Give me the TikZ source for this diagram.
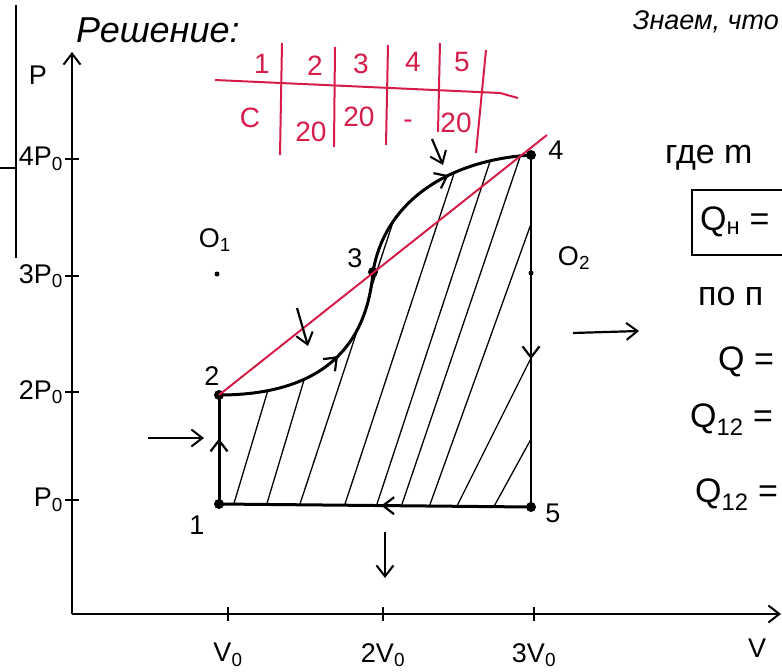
\documentclass[tikz,border=0pt]{standalone}
\usepackage{fontspec}
\setmainfont{Liberation Sans}
\usetikzlibrary{arrows.meta,decorations.markings}
\definecolor{inkred}{RGB}{214,28,72}
\tikzset{
  axisline/.style={line width=2.2pt,black},
  cycline/.style={line width=3pt,black},
  thinline/.style={line width=2pt,black},
  hatchline/.style={line width=1.3pt,black},
  redline/.style={draw=inkred,line width=2pt},
  lbl/.style={font=\fontsize{27}{29}\selectfont,inner sep=0pt},
  biglbl/.style={font=\fontsize{34}{36}\selectfont,inner sep=0pt,anchor=west},
  redlbl/.style={font=\fontsize{28}{30}\selectfont,inner sep=0pt,text=inkred},
  ptdot/.style={circle,fill=black,inner sep=0pt,minimum size=10pt},
  smalldot/.style={circle,fill=black,inner sep=0pt,minimum size=5pt},
  barb/.style={-{Straight Barb[length=11pt,width=17pt,line width=2pt]}},
  freearrow/.style={line width=2.2pt,barb},
  midarrow/.style={postaction={decorate,decoration={markings,
     mark=at position #1 with {\arrow{Straight Barb[length=11pt,width=17pt,line width=2.2pt]}}}}}
}
\begin{document}
\begin{tikzpicture}[x=1pt,y=-1pt]
\useasboundingbox (0,0) rectangle (782,672);

% left margin line
\coordinate (mtop) at (16,5);
\coordinate (mbot) at (16,258);
\coordinate (mstub) at (0,168);
\coordinate (mjoin) at (16,168);
\draw[thinline] (mtop) -- (mbot);
\draw[thinline] (mstub) -- (mjoin);

% axes
\coordinate (O) at (72,614);
\coordinate (Ptop) at (72,52);
\coordinate (Vend) at (781,614);
\draw[axisline,barb] (O) -- (Ptop);
\draw[axisline,barb] (O) -- (Vend);
\node[lbl] (Plab) at (38,75) {P};
\node[lbl] (Vlab) at (757,648) {V};

% P ticks
\foreach \yy/\nm/\tx in {500/t1/P\textsubscript{0},392/t2/2P\textsubscript{0},276/t3/3P\textsubscript{0},159/t4/4P\textsubscript{0}}{
  \coordinate (\nm a) at (65,\yy);
  \coordinate (\nm b) at (79,\yy);
  \draw[axisline] (\nm a) -- (\nm b);
  \node[lbl,anchor=east] (\nm l) at (63,\yy) {\tx};
}
% V ticks
\foreach \xx/\nm/\tx in {228/v1/V\textsubscript{0},383/v2/2V\textsubscript{0},534/v3/3V\textsubscript{0}}{
  \coordinate (\nm a) at (\xx,607);
  \coordinate (\nm b) at (\xx,621);
  \draw[axisline] (\nm a) -- (\nm b);
  \node[lbl] (\nm l) at (\xx,655) {\tx};
}

% states
\node[ptdot] (p1) at (219,504) {};
\node[ptdot] (p2) at (219,395) {};
\node[ptdot] (p3) at (373,272) {};
\node[ptdot] (p4) at (531,155) {};
\node[ptdot] (p5) at (531,507) {};
\node[lbl] (l1) at (197,525) {1};
\node[lbl] (l2) at (212,376) {2};
\node[lbl] (l3) at (355,258) {3};
\node[lbl] (l4) at (556,150) {4};
\node[lbl] (l5) at (553,513) {5};

% O1, O2
\node[smalldot] (o1) at (217,274) {};
\node[lbl] (o1l) at (215,240) {O\textsubscript{1}};
\node[smalldot] (o2) at (531,273) {};
\node[lbl] (o2l) at (574,258) {O\textsubscript{2}};

% hatching
\begin{scope}
\clip (p1.center) -- (p2.center) .. controls (300,395) and (365,365) .. (p3.center)
      .. controls (385,200) and (450,160) .. (p4.center) -- (p5.center) -- cycle;
\foreach \xb/\s in {232/0.30,265/0.30,298/0.33,343/0.33,375/0.33,400/0.34,428/0.36,455/0.5,492/0.55}{
  \draw[hatchline] (\xb,510) -- ({\xb+\s*400},110);
}
\end{scope}

% cycle
\draw[cycline,midarrow=0.6] (p1.center) -- (p2.center);
\draw[cycline,midarrow=0.58] (p2.center) .. controls (300,395) and (365,365) .. (p3.center);
\draw[cycline,midarrow=0.6] (p3.center) .. controls (385,200) and (450,160) .. (p4.center);
\draw[thinline,midarrow=0.58] (p4.center) -- (p5.center);
\draw[cycline,midarrow=0.48] (p5.center) -- (p1.center);

% red line
\coordinate (rend) at (547,135);
\draw[redline] (p2.center) -- (rend);

% free arrows
\coordinate (a1s) at (148,438); \coordinate (a1e) at (204,438);
\coordinate (a2s) at (297,308); \coordinate (a2e) at (308,346);
\coordinate (a3s) at (432,139); \coordinate (a3e) at (443,165);
\coordinate (a4s) at (573,333); \coordinate (a4e) at (639,331);
\coordinate (a5s) at (385,532); \coordinate (a5e) at (385,578);
\draw[freearrow] (a1s) -- (a1e);
\draw[freearrow] (a2s) -- (a2e);
\draw[freearrow] (a3s) -- (a3e);
\draw[freearrow] (a4s) -- (a4e);
\draw[freearrow] (a5s) -- (a5e);

% red table
\coordinate (h1) at (215,80); \coordinate (h2) at (500,93); \coordinate (h3) at (518,98);
\draw[redline] (h1) -- (h2) -- (h3);
\foreach \xt/\yt/\xbb/\ybb/\nm in {282/43/280/155/c1,335/47/334/147/c2,388/45/386/145/c3,440/43/438/132/c4,486/50/476/153/c5}{
  \coordinate (\nm t) at (\xt,\yt);
  \coordinate (\nm b) at (\xbb,\ybb);
  \draw[redline] (\nm t) -- (\nm b);
}
\node[redlbl] (r1) at (262,64) {1};
\node[redlbl] (r2) at (315,66) {2};
\node[redlbl] (r3) at (361,64) {3};
\node[redlbl] (r4) at (413,62) {4};
\node[redlbl] (r5) at (462,62) {5};
\node[redlbl] (s1) at (250,118) {C};
\node[redlbl] (s2) at (311,132) {20};
\node[redlbl] (s3) at (359,117) {20};
\node[redlbl] (s4) at (408,124) {-};
\node[redlbl] (s5) at (456,123) {20};

% texts
\node[font=\fontsize{36}{38}\selectfont\itshape,inner sep=0pt,anchor=west] (head) at (76,30) {Решение:};
\node[font=\fontsize{27}{29}\selectfont\itshape,inner sep=0pt,anchor=east] (know) at (779,22) {Знаем, что};
\node[biglbl] (gde) at (665,158) {где m};
\coordinate (bx1) at (692,190);
\coordinate (bx2) at (800,255);
\draw[thinline] (bx1) rectangle (bx2);
\node[biglbl] (qh) at (700,222) {Q\textsubscript{н} =};
\node[biglbl] (pon) at (698,297) {по п};
\node[biglbl] (qq) at (718,362) {Q =};
\node[biglbl] (q12a) at (690,420) {Q\textsubscript{12} =};
\node[biglbl] (q12b) at (695,495) {Q\textsubscript{12} =};
\end{tikzpicture}
\end{document}
